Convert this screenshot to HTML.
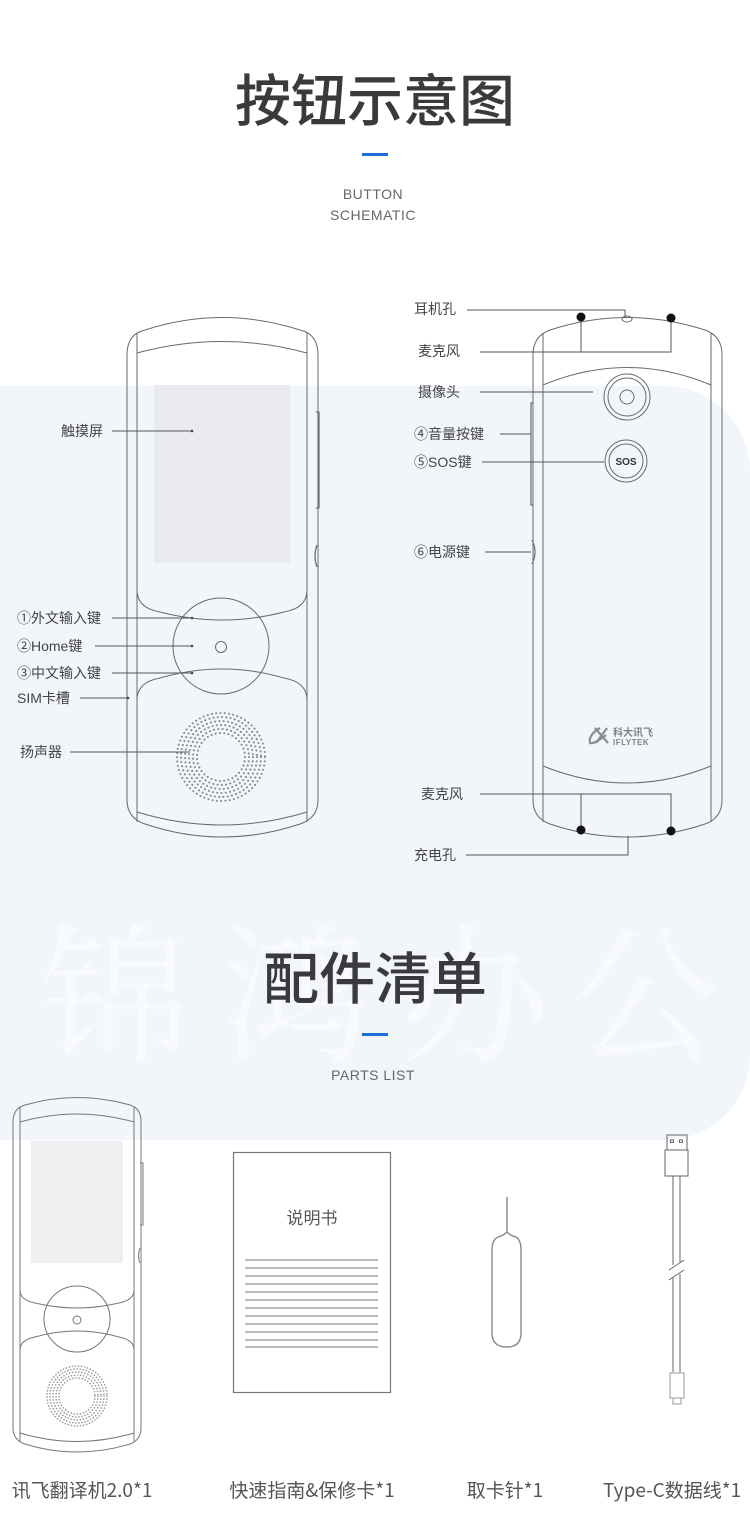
<!DOCTYPE html>
<html><head><meta charset="utf-8"><style>
html,body{margin:0;padding:0;background:#fff;}
body{width:750px;height:1528px;overflow:hidden;position:relative;font-family:"Liberation Sans","Noto Sans CJK SC",sans-serif;}
svg{position:absolute;left:0;top:0;}
</style></head><body>
<svg width="750" height="1528" viewBox="0 0 750 1528" xmlns="http://www.w3.org/2000/svg" font-family="Liberation Sans, Noto Sans CJK SC, sans-serif">
<rect x="-80" y="386" width="830" height="754" rx="85" fill="#f2f5fa"/>
<g fill="#f8fafd" font-size="150" font-family="Noto Serif CJK SC, serif">
<text x="40" y="1050">锦</text><text x="220" y="1050">鸿</text><text x="400" y="1050">办</text><text x="570" y="1050">公</text>
</g>

<text x="375" y="121" text-anchor="middle" font-size="56" font-weight="500" fill="#3a3a3c" font-family="Noto Sans CJK SC, sans-serif">按钮示意图</text>
<rect x="362" y="153" width="26" height="3" fill="#1a6fd6"/>
<text x="373" y="199" text-anchor="middle" font-size="14" fill="#666" letter-spacing="0.5">BUTTON</text>
<text x="373" y="220" text-anchor="middle" font-size="14" fill="#666" letter-spacing="0.5">SCHEMATIC</text>

<text x="375" y="999" text-anchor="middle" font-size="56" font-weight="500" fill="#3a3a3c" font-family="Noto Sans CJK SC, sans-serif">配件清单</text>
<rect x="362" y="1033" width="26" height="3" fill="#1a6fd6"/>
<text x="373" y="1080" text-anchor="middle" font-size="14" fill="#666" letter-spacing="0.5">PARTS LIST</text>

<!-- FRONT DEVICE -->
<g fill="none" stroke="#6a6a6a" stroke-width="1">
<path d="M127 355 Q127 334 145 330 Q222 305 300 330 Q318 334 318 355 L318 800 Q318 818 300 824 Q222 850 145 824 Q127 818 127 800 Z"/>
<line x1="137" y1="333" x2="137" y2="822"/>
<line x1="307" y1="333" x2="307" y2="822"/>
<path d="M137 353 Q222 330 307 353"/>
<path d="M137 353 L137 590 Q137 608 160 612 Q222 628 284 612 Q307 608 307 590 L307 353"/>
<path d="M137 700 Q137 682 160 678 Q222 660 284 678 Q307 682 307 700"/>
<path d="M137 812 Q222 838 307 812"/>
<circle cx="221" cy="646" r="48"/>
<circle cx="221" cy="647" r="5.5"/>
<path d="M316 412 L319 412 L319 508 L316 508" stroke-width="1.2"/>
<path d="M317 545 Q313 556 317 567" stroke-width="1.2"/>
</g>
<rect x="154" y="385" width="136" height="178" fill="#e9ebef"/>
<g fill="none" stroke="#888" stroke-width="2" stroke-linecap="round" stroke-dasharray="0.1 4.2">
<circle cx="221" cy="757" r="44"/><circle cx="221" cy="757" r="40"/><circle cx="221" cy="757" r="36"/>
<circle cx="221" cy="757" r="32"/><circle cx="221" cy="757" r="28"/><circle cx="221" cy="757" r="24"/>
</g>
<g font-size="14" fill="#444">
<text x="61" y="436">触摸屏</text>
<text x="17" y="623">①外文输入键</text>
<text x="17" y="651">②Home键</text>
<text x="17" y="678">③中文输入键</text>
<text x="17" y="703">SIM卡槽</text>
<text x="20" y="757">扬声器</text>
</g>
<g stroke="#555" stroke-width="1">
<line x1="112" y1="431" x2="191" y2="431"/>
<line x1="112" y1="618" x2="191" y2="618"/>
<line x1="95" y1="646" x2="191" y2="646"/>
<line x1="112" y1="673" x2="191" y2="673"/>
<line x1="80" y1="698" x2="127" y2="698"/>
<line x1="70" y1="752" x2="190" y2="752"/>
</g>
<g fill="#444"><circle cx="192" cy="431" r="1.3"/><circle cx="192" cy="618" r="1.3"/><circle cx="192" cy="646" r="1.3"/><circle cx="192" cy="673" r="1.3"/><circle cx="128" cy="698" r="1.3"/></g>

<!-- BACK DEVICE -->
<g fill="none" stroke="#6a6a6a" stroke-width="1">
<path d="M533 355 Q533 336 550 330 Q627 305 705 330 Q722 336 722 355 L722 800 Q722 818 705 824 Q627 850 550 824 Q533 818 533 800 Z"/>
<line x1="543" y1="333" x2="543" y2="822"/>
<line x1="711" y1="333" x2="711" y2="822"/>
<path d="M543 385 Q627 350 711 385"/>
<path d="M543 766 Q627 800 711 766"/>
<circle cx="627" cy="397" r="23"/><circle cx="627" cy="397" r="19"/><circle cx="627" cy="397" r="7"/>
<circle cx="626" cy="461" r="21"/><circle cx="626" cy="461" r="17"/>
<path d="M533 403 L531 403 L531 505 L533 505" stroke-width="1.2"/>
<path d="M532 540 Q538 552 532 564" stroke-width="1.2"/>
<ellipse cx="627" cy="319" rx="5" ry="3"/>
</g>
<text x="626" y="465" text-anchor="middle" font-size="10" font-weight="bold" fill="#333">SOS</text>
<g fill="none" stroke="#8a8f96" stroke-width="2.2">
<path d="M600 728 Q588 735 590 743 Q595 744 606 735"/>
<path d="M595 728 L608 743 M607 728 L596 743"/>
</g>
<text x="613" y="736" font-size="10" font-weight="bold" fill="#7d828a">科大讯飞</text>
<text x="613" y="745" font-size="8" font-weight="bold" fill="#7d828a" letter-spacing="0.5">IFLYTEK</text>
<g stroke="#555" stroke-width="1" fill="none">
<path d="M467 310 L625 310 L625 317"/>
<path d="M480 352 L671 352 L671 318 M581 318 L581 352"/>
<line x1="480" y1="392" x2="593" y2="392"/>
<line x1="500" y1="434" x2="531" y2="434"/>
<line x1="482" y1="462" x2="604" y2="462"/>
<line x1="485" y1="552" x2="531" y2="552"/>
<path d="M480 794 L671 794 L671 831 M581 794 L581 830"/>
<path d="M466 855 L628 855 L628 836"/>
</g>
<g fill="#111"><circle cx="581" cy="317" r="4.5"/><circle cx="671" cy="318" r="4.5"/><circle cx="581" cy="830" r="4.5"/><circle cx="671" cy="831" r="4.5"/></g>
<g font-size="14" fill="#444">
<text x="414" y="314">耳机孔</text>
<text x="418" y="356">麦克风</text>
<text x="418" y="397">摄像头</text>
<text x="414" y="439">④音量按键</text>
<text x="414" y="467">⑤SOS键</text>
<text x="414" y="557">⑥电源键</text>
<text x="421" y="799">麦克风</text>
<text x="414" y="860">充电孔</text>
</g>

<!-- PARTS: small device -->
<g fill="none" stroke="#777" stroke-width="1">
<path d="M13 1122 Q13 1108 25 1105 Q77 1090 130 1105 Q141 1108 141 1122 L141 1428 Q141 1440 130 1444 Q77 1460 25 1444 Q13 1440 13 1428 Z"/>
<line x1="20" y1="1107" x2="20" y2="1441"/><line x1="134" y1="1107" x2="134" y2="1441"/>
<path d="M20 1122 Q77 1106 134 1122"/>
<path d="M20 1122 L20 1290 Q20 1300 35 1303 Q77 1313 119 1303 Q134 1300 134 1290 L134 1122"/>
<path d="M20 1350 Q20 1340 35 1337 Q77 1325 119 1337 Q134 1340 134 1350"/>
<path d="M20 1433 Q77 1450 134 1433"/>
<circle cx="77" cy="1319" r="33"/><circle cx="77" cy="1320" r="4"/>
<path d="M140 1163 L143 1163 L143 1225 L140 1225"/>
<path d="M140 1248 Q137 1256 140 1263"/>
</g>
<rect x="31" y="1141" width="92" height="122" fill="#efefef"/>
<g fill="none" stroke="#999" stroke-width="1.6" stroke-linecap="round" stroke-dasharray="0.1 3">
<circle cx="77" cy="1396" r="30"/><circle cx="77" cy="1396" r="27"/><circle cx="77" cy="1396" r="24"/><circle cx="77" cy="1396" r="21"/><circle cx="77" cy="1396" r="18"/>
</g>
<rect x="233.5" y="1152.5" width="157" height="240" fill="none" stroke="#777" stroke-width="1.2"/>
<text x="312" y="1224" text-anchor="middle" font-size="17" fill="#555">说明书</text>
<g stroke="#777" stroke-width="1">
<line x1="245" y1="1260" x2="378" y2="1260"/><line x1="245" y1="1268" x2="378" y2="1268"/><line x1="245" y1="1276" x2="378" y2="1276"/><line x1="245" y1="1284" x2="378" y2="1284"/><line x1="245" y1="1292" x2="378" y2="1292"/><line x1="245" y1="1300" x2="378" y2="1300"/><line x1="245" y1="1308" x2="378" y2="1308"/><line x1="245" y1="1316" x2="378" y2="1316"/><line x1="245" y1="1324" x2="378" y2="1324"/><line x1="245" y1="1332" x2="378" y2="1332"/><line x1="245" y1="1340" x2="378" y2="1340"/><line x1="245" y1="1347" x2="378" y2="1347"/>
</g>
<g fill="none" stroke="#888" stroke-width="1.4">
<line x1="507" y1="1197" x2="507" y2="1232"/>
<path d="M507 1232 Q503 1236 498 1237 Q492 1240 492 1250 L492 1333 Q492 1347 507 1347 Q521 1347 521 1333 L521 1250 Q521 1240 516 1237 Q511 1236 507 1232"/>
</g>
<g fill="none" stroke="#666" stroke-width="1">
<rect x="667" y="1135" width="20" height="15"/>
<rect x="665" y="1150" width="23" height="26"/>
<rect x="670.5" y="1140" width="3" height="2.5"/><rect x="679.5" y="1140" width="3" height="2.5"/>
<line x1="673" y1="1176" x2="673" y2="1265"/><line x1="680" y1="1176" x2="680" y2="1262"/>
<line x1="673" y1="1277" x2="673" y2="1372"/><line x1="680" y1="1274" x2="680" y2="1372"/>
<line x1="669" y1="1270" x2="684" y2="1260"/><line x1="669" y1="1280" x2="684" y2="1270"/>
<rect x="670" y="1373" width="14" height="25" stroke="#999"/>
<rect x="673" y="1398" width="8" height="6" stroke="#999"/>
</g>
<g font-size="19" fill="#555" font-family="Noto Sans CJK SC, sans-serif">
<text x="82" y="1497" text-anchor="middle">讯飞翻译机2.0*1</text>
<text x="312" y="1497" text-anchor="middle">快速指南&amp;保修卡*1</text>
<text x="505" y="1497" text-anchor="middle">取卡针*1</text>
<text x="603" y="1497">Type-C数据线*1</text>
</g>
</svg>
</body></html>
